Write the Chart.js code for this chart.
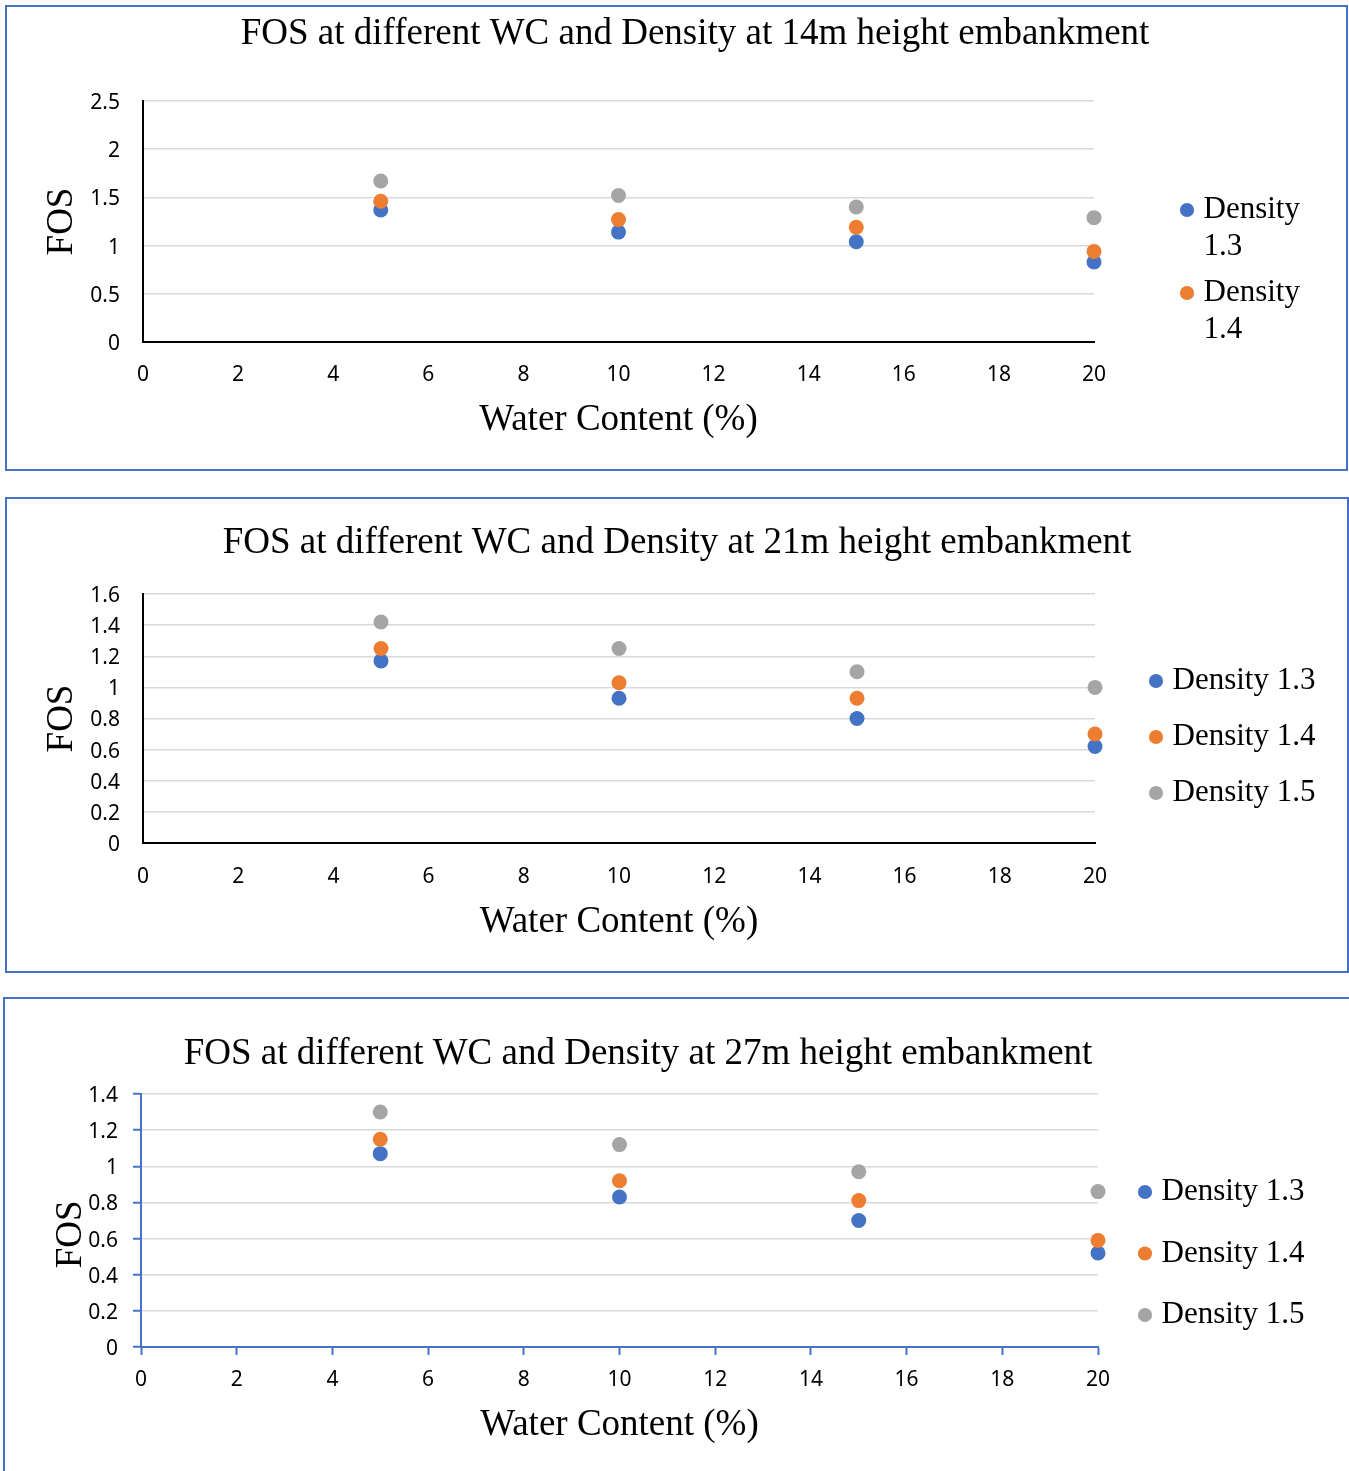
<!DOCTYPE html>
<html><head><meta charset="utf-8">
<script src="https://cdn.jsdelivr.net/npm/chart.js@4.4.1/dist/chart.umd.min.js"></script>
<style>
html,body{margin:0;padding:0;background:#fff;overflow:hidden;width:1349px;height:1471px;}
.box{position:absolute;border:2px solid #4472C4;box-sizing:border-box;background:#fff;}
canvas{display:block;}
</style></head><body>
<div class="box" style="left:5px;top:5px;width:1343px;height:466px;"><canvas id="c1" width="1339" height="462"></canvas></div>
<div class="box" style="left:5px;top:497px;width:1344px;height:476px;"><canvas id="c2" width="1340" height="472"></canvas></div>
<div class="box" style="left:3px;top:997px;width:1352px;height:480px;"><canvas id="c3" width="1348" height="476"></canvas></div>
<script>
// ---- data ----
const waterContent = [5, 10, 15, 20];
const densityLabels = ['Density 1.3', 'Density 1.4', 'Density 1.5'];
const xTicks = [0, 2, 4, 6, 8, 10, 12, 14, 16, 18, 20];

const title14 = 'FOS at different WC and Density at 14m height embankment';
const fos14_d13 = [1.37, 1.14, 1.04, 0.83];
const fos14_d14 = [1.46, 1.27, 1.19, 0.94];
const fos14_d15 = [1.67, 1.52, 1.40, 1.29];
const yTicks14 = [0, 0.5, 1, 1.5, 2, 2.5];

const title21 = 'FOS at different WC and Density at 21m height embankment';
const fos21_d13 = [1.17, 0.93, 0.80, 0.62];
const fos21_d14 = [1.25, 1.03, 0.93, 0.70];
const fos21_d15 = [1.42, 1.25, 1.10, 1.00];
const yTicks21 = [0, 0.2, 0.4, 0.6, 0.8, 1, 1.2, 1.4, 1.6];

const title27 = 'FOS at different WC and Density at 27m height embankment';
const fos27_d13 = [1.07, 0.83, 0.70, 0.52];
const fos27_d14 = [1.15, 0.92, 0.81, 0.59];
const fos27_d15 = [1.30, 1.12, 0.97, 0.86];
const yTicks27 = [0, 0.2, 0.4, 0.6, 0.8, 1, 1.2, 1.4];

const xTitle = 'Water Content (%)';
const yTitle = 'FOS';

// ---- styling ----
const PALETTE = ['#4472C4', '#ED7D31', '#A5A5A5'];
const SERIF = "'Liberation Serif', 'Times New Roman', serif";
const SANS = "'Noto Sans', 'Liberation Sans', sans-serif";

function toPoints(ys) { return waterContent.map((x, i) => ({x: x, y: ys[i]})); }

function makeChart(canvasId, seriesList, yTicks, titleText, cfg) {
  const canvas = document.getElementById(canvasId);
  const W = canvas.width, H = canvas.height;
  const [plotL, plotT, plotR, plotB] = cfg.plot;
  const legendW = 200;
  const titleSize = 37, titleLH = titleSize * 1.2;
  const padTop = cfg.titleC[1] - titleLH / 2;
  const padBot = plotT - padTop - titleLH;
  const axSize = 37, axLH = axSize * 1.2;
  const legSize = 31;
  const tickFont = {family: SANS, size: 21};

  const posPlugin = {
    id: 'pos_' + canvasId,
    beforeLayout(chart) {
      const lg = chart.legend;
      if (lg && !lg._fixedW) {
        const f = lg.fit;
        lg.fit = function () { f.call(this); this.width = legendW; };
        lg._fixedW = true;
      }
    },
    afterLayout(chart) {
      const tb = chart.titleBlock;
      if (tb) { tb.left = cfg.titleC[0] - 660; tb.right = cfg.titleC[0] + 660; }
      const lg = chart.legend;
      if (lg) {
        const p = cfg.legendPad;
        lg.left = cfg.legendDot[0] - p - 1;
        lg.top = cfg.legendDot[1] - legSize / 2 - p;
        lg.right = W; lg.bottom = H;
        lg.width = lg.right - lg.left; lg.height = lg.bottom - lg.top;
      }
    }
  };

  const datasets = seriesList.map((ys, i) => ({
    label: densityLabels[i],
    data: toPoints(ys),
    backgroundColor: PALETTE[i],
    borderColor: PALETTE[i],
    borderWidth: 0,
    pointRadius: 7.5,
    pointHoverRadius: 7.5,
    clip: false,
    order: 10 - i
  }));

  return new Chart(canvas, {
    type: 'scatter',
    data: {datasets: datasets},
    plugins: [posPlugin],
    options: {
      responsive: false,
      animation: false,
      devicePixelRatio: 1,
      layout: {padding: {left: 0, top: 0, bottom: 0, right: W - plotR - legendW}},
      plugins: {
        tooltip: {enabled: false},
        title: {
          display: true, text: titleText, color: '#000',
          font: {family: SERIF, size: titleSize, weight: 'normal', lineHeight: 1.2},
          padding: {top: padTop, bottom: padBot}
        },
        legend: {
          position: 'right', align: 'start',
          labels: {
            usePointStyle: true, pointStyle: 'circle', boxWidth: 2, boxHeight: 10,
            font: {family: SERIF, size: legSize, lineHeight: 1.2}, color: '#000',
            padding: cfg.legendPad,
            filter: item => item.datasetIndex < cfg.legendCount,
            sort: (a, b) => a.datasetIndex - b.datasetIndex,
            generateLabels: chart => {
              const items = Chart.defaults.plugins.legend.labels.generateLabels(chart);
              return cfg.legendWrap ? items.map(it => Object.assign({}, it, {text: it.text.split(' ')})) : items;
            }
          }
        }
      },
      scales: {
        x: {
          type: 'linear', position: 'bottom', min: 0, max: 20,
          afterBuildTicks: s => { s.ticks = xTicks.map(v => ({value: v})); },
          afterFit: s => { s.height = H - plotB; },
          grid: {display: cfg.tickMarks, drawOnChartArea: false, drawTicks: cfg.tickMarks, tickLength: 8, tickColor: cfg.axisColor, tickWidth: 2},
          border: {display: true, color: cfg.axisColor, width: 2},
          ticks: {font: tickFont, color: '#000', padding: cfg.xTickPad, maxRotation: 0, autoSkip: false},
          title: {display: true, text: xTitle, color: '#000', font: {family: SERIF, size: axSize, lineHeight: 1.2},
                  padding: {top: 0, bottom: H - cfg.xTitleY - axLH / 2}}
        },
        y: {
          type: 'linear', position: 'left', min: 0, max: yTicks[yTicks.length - 1],
          afterBuildTicks: s => { s.ticks = yTicks.map(v => ({value: v})); },
          afterFit: s => { s.width = plotL; },
          grid: {color: '#D9D9D9', lineWidth: 1.5, drawTicks: cfg.tickMarks, tickLength: 8, tickColor: cfg.axisColor, tickWidth: 2},
          border: {display: true, color: cfg.axisColor, width: 2},
          ticks: {font: tickFont, color: '#000', padding: cfg.yTickPad, autoSkip: false, labelOffset: 2,
                  callback: v => String(Number(Number(v).toFixed(2)))},
          title: {display: true, text: cfg.yTitleText, color: '#000', font: {family: SERIF, size: axSize, lineHeight: 1.2},
                  padding: {top: cfg.yTitleX - axLH / 2, bottom: 0}}
        }
      }
    }
  });
}

makeChart('c1', [fos14_d13, fos14_d14, fos14_d15], yTicks14, title14, {
  plot: [136, 94, 1087, 335], titleC: [688, 27], xTitleY: 413, yTitleX: 55, yTitleText: yTitle,
  xTickPad: 20, yTickPad: 23, legendDot: [1180, 203], legendPad: 8.6, legendCount: 2, legendWrap: true,
  axisColor: '#000000', tickMarks: false
});
makeChart('c2', [fos21_d13, fos21_d14, fos21_d15], yTicks21, title21, {
  plot: [136, 95, 1088, 344], titleC: [670, 44], xTitleY: 423, yTitleX: 55, yTitleText: yTitle,
  xTickPad: 21, yTickPad: 23, legendDot: [1149, 182], legendPad: 25, legendCount: 3, legendWrap: false,
  axisColor: '#000000', tickMarks: false
});
makeChart('c3', [fos27_d13, fos27_d14, fos27_d15], yTicks27, title27, {
  plot: [136, 95, 1093, 348], titleC: [633, 55], xTitleY: 426, yTitleX: 66.5, yTitleText: yTitle + '   ',
  xTickPad: 12, yTickPad: 15, legendDot: [1140, 193], legendPad: 30.5, legendCount: 3, legendWrap: false,
  axisColor: '#4472C4', tickMarks: true
});
</script>
</body></html>
